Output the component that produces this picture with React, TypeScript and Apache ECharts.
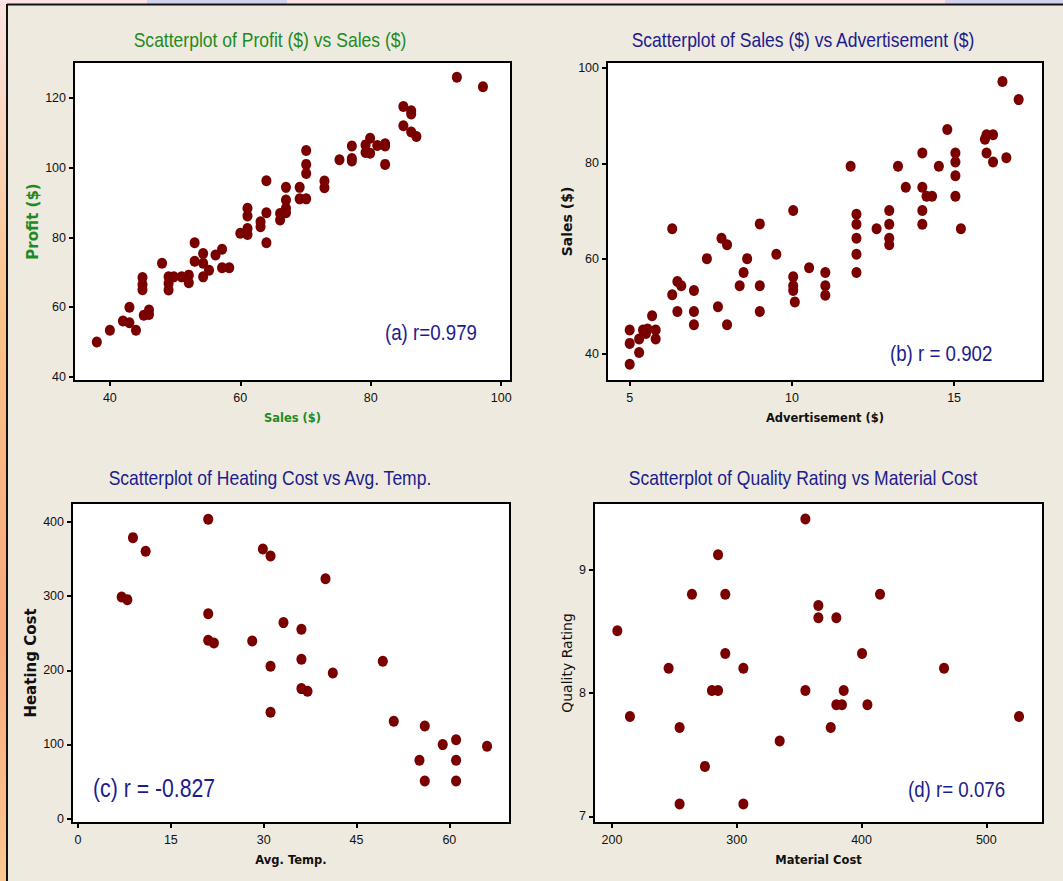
import React, { useEffect, useRef } from "react";
import * as echarts from "echarts";

// Panel (a): Profit vs Sales
const salesA = [38,40,42,43,43,44,45,45,45,45.2,46,46,48,49,49,49,49.8,51,52.1,52.1,53,53,54.3,54.3,54.3,55.2,56.2,57.2,57.2,58.3,60,61.1,61.1,61.1,61.1,63.1,63.1,64,64,64,66.1,66.1,67,67,67,67,69.1,69.1,70.1,70.1,70.1,70.1,72.9,72.9,75.2,77.1,77.1,77.1,79.2,79.2,79.9,79.9,81,82.2,82.2,82.2,85,85,86.2,86.2,86.2,87,93.2,97.2];
const profitA = [50,53.4,56,60,55.5,53.4,68.5,66.5,65,57.7,59.2,57.9,72.6,68.7,66.8,64.9,68.7,68.7,69.2,67,78.5,73.2,75.4,72.6,68.7,70.6,75,76.6,71.3,71.3,81.2,88.4,86.2,82.6,80.9,84.5,83.1,96.3,87.1,78.5,86.9,85,94.4,90.8,88.4,87.1,94.4,91.1,105,101,98.4,91.1,96.2,94.3,102.3,106.3,102.7,102,106.6,104.4,108.5,104.2,106.4,106.9,106.3,101,117.6,112.1,116.4,115.5,110.3,109,126,123.3];

// Panel (b): Sales vs Advertisement
const advB = [5,5,5,5.29,5.29,5.41,5.5,5.55,5.69,5.8,5.8,6.31,6.31,6.47,6.59,6.47,6.98,6.98,6.98,7.38,7.72,7.83,8,8,8.39,8.51,8.62,9.01,9.01,9.01,9.52,10.04,10.04,10.04,10.04,10.09,10.53,11.03,11.03,11.03,11.81,11.99,11.99,11.99,11.99,11.99,12.61,13,13,13,13,13.27,13.51,14.02,14.02,14.02,14.02,14.15,14.32,14.53,14.79,15.04,15.04,15.04,15.04,15.21,15.95,16,16,16.2,16.2,16.49,16.61,16.99];
const salesB = [45,42.2,37.8,40.3,43.1,45,44.3,45.2,48,45,43.1,52.4,66.3,55.2,54.3,48.9,53.3,48.9,46.1,60,49.9,64.3,62.9,46.1,54.3,57.1,60,67.3,54.3,48.9,60.9,70.1,56.2,54.3,53.3,50.9,58.1,57.1,54.3,52.3,79.4,69.3,67.2,64.3,60.9,57.1,66.3,70.1,67.2,64.3,62.9,79.4,75,82.2,75,70.1,67.2,73.1,73.1,79.4,87.1,82.2,80.3,77.4,73.1,66.3,85.1,86,82.2,86,80.3,97.2,81.2,93.4];

// Panel (c): Heating Cost vs Avg. Temp.
const tempC = [7.05,7.97,8.88,10.93,21.04,21.04,21.04,21.96,28.15,29.87,31.11,31.11,31.11,33.2,36.1,36.1,36.1,37.08,39.99,41.17,49.25,51.02,55.17,56.03,56.03,58.93,61.09,61.09,61.09,66.09];
const costC = [298.9,295.3,378.9,360.4,403.6,276.4,240.4,236.9,239.6,363.6,354.2,205.4,143.4,264.3,255.3,214.8,175.3,171.7,323.6,196.4,212.1,131.2,78.7,124.9,50.8,99.8,106.5,78.7,50.8,97.5];

// Panel (d): Quality Rating vs Material Cost
const matD = [204.3,214.4,245.4,254.2,254.2,264.1,274.5,280.1,285,285,290.8,290.8,305.3,305.3,334.4,355,355,365.4,365.4,375.3,379.8,379.8,384.3,385.7,400.4,404.7,414.8,466.1,526.2];
const qualD = [8.505,7.81,8.2,7.72,7.1,8.8,7.405,8.02,8.02,9.12,8.8,8.32,8.2,7.1,7.61,9.41,8.02,8.71,8.61,7.72,8.61,7.905,7.905,8.02,8.32,7.905,8.8,8.2,7.81];

const ticksA_x = [40, 60, 80, 100];
const ticksA_y = [40, 60, 80, 100, 120];
const ticksB_x = [5, 10, 15];
const ticksB_y = [40, 60, 80, 100];
const ticksC_x = [0, 15, 30, 45, 60];
const ticksC_y = [0, 100, 200, 300, 400];
const ticksD_x = [200, 300, 400, 500];
const ticksD_y = [7, 8, 9];

const titles = [
  "Scatterplot of Profit ($) vs Sales ($)",
  "Scatterplot of Sales ($) vs Advertisement ($)",
  "Scatterplot of Heating Cost vs Avg. Temp.",
  "Scatterplot of Quality Rating vs Material Cost",
];
const notes = ["(a) r=0.979", "(b) r = 0.902", "(c) r = -0.827", "(d) r= 0.076"];

const FONT_L = "'Liberation Sans', Arial, sans-serif";
const FONT_B = "'DejaVu Sans', Verdana, sans-serif";
const GREEN = "#1f8a1f";
const NAVY = "#1c1c8c";
const DOT = "#7a0000";
const CREAM = "#eeeae0";

function zip(a: number[], b: number[]) {
  return a.map((v, i) => [v, b[i]]);
}

function axis(
  dim: "x" | "y",
  gridIndex: number,
  min: number,
  max: number,
  ticks: number[],
  name: string,
  nameGap: number,
  nameColor: string,
  bold: boolean,
  nameSize: number
) {
  return {
    type: "value",
    gridIndex,
    min,
    max,
    name,
    nameLocation: "middle",
    nameGap,
    nameTextStyle: {
      color: nameColor,
      fontFamily: FONT_B,
      fontWeight: bold ? "bold" : "normal",
      fontSize: nameSize,
    },
    axisLine: { show: true, onZero: false, lineStyle: { color: "#000", width: 2 } },
    axisTick: {
      show: true,
      inside: false,
      length: 5,
      lineStyle: { color: "#000", width: 2 },
      customValues: ticks,
    },
    axisLabel: {
      customValues: ticks,
      color: "#111",
      fontSize: 12.5,
      fontFamily: FONT_L,
      margin: dim === "x" ? 10 : 8,
      showMinLabel: true,
      showMaxLabel: true,
    },
    splitLine: { show: false },
  };
}

export default function App() {
  const ref = useRef<HTMLDivElement>(null);
  useEffect(() => {
    if (!ref.current) return;
    const chart = echarts.init(ref.current, undefined, { renderer: "svg" });
    const gridBase = {
      show: true,
      backgroundColor: "#ffffff",
      borderColor: "#000",
      borderWidth: 2,
    };
    const titleCenters = [
      [270, 39],
      [803, 39],
      [270, 477],
      [803, 477],
    ];
    const noteStyle = [
      { x: 385, y: 332, size: 22 },
      { x: 890, y: 353, size: 22 },
      { x: 93, y: 788, size: 25 },
      { x: 908, y: 789, size: 22 },
    ];
    const option: any = {
      animation: false,
      backgroundColor: CREAM,
      grid: [
        { ...gridBase, left: 74, top: 62, width: 437, height: 319 },
        { ...gridBase, left: 607, top: 62, width: 436, height: 319 },
        { ...gridBase, left: 72, top: 503, width: 438, height: 320 },
        { ...gridBase, left: 594, top: 503, width: 449, height: 320 },
      ],
      xAxis: [
        axis("x", 0, 34.5, 101.5, ticksA_x, "Sales ($)", 31, GREEN, true, 11.5),
        axis("x", 1, 4.3, 17.74, ticksB_x, "Advertisement ($)", 31, "#111", true, 11.5),
        axis("x", 2, -0.97, 69.8, ticksC_x, "Avg. Temp.", 31, "#111", true, 11.5),
        axis("x", 3, 185.6, 545.4, ticksD_x, "Material Cost", 31, "#111", true, 11.5),
      ],
      yAxis: [
        axis("y", 0, 38.8, 130.4, ticksA_y, "Profit ($)", 34, GREEN, true, 15),
        axis("y", 1, 34.3, 101.3, ticksB_y, "Sales ($)", 33, "#111", true, 14),
        axis("y", 2, -5.9, 425.6, ticksC_y, "Heating Cost", 34, "#111", true, 15),
        axis("y", 3, 6.946, 9.54, ticksD_y, "Quality Rating", 20, "#111", false, 14),
      ],
      series: [
        [salesA, profitA],
        [advB, salesB],
        [tempC, costC],
        [matD, qualD],
      ].map(([xs, ys], i) => ({
        type: "scatter",
        xAxisIndex: i,
        yAxisIndex: i,
        data: zip(xs, ys),
        symbol: "circle",
        symbolSize: [10, 11],
        itemStyle: { color: DOT, opacity: 1 },
        z: 5,
      })),
      graphic: [
        // top strip
        { type: "rect", z: 1, shape: { x: 0, y: 0, width: 1063, height: 5 }, style: { fill: "#fce4e6" } },
        { type: "rect", z: 1, shape: { x: 147, y: 0, width: 140, height: 4 }, style: { fill: "#d2d2ee" } },
        { type: "rect", z: 1, shape: { x: 945, y: 0, width: 118, height: 4 }, style: { fill: "#d2d2ee" } },
        // left strip
        {
          type: "rect",
          z: 1,
          shape: { x: 0, y: 0, width: 7, height: 881 },
          style: {
            fill: new echarts.graphic.LinearGradient(0, 0, 0, 1, [
              { offset: 0, color: "#fde3e3" },
              { offset: 0.35, color: "#fac48a" },
              { offset: 0.72, color: "#f8a87a" },
              { offset: 1, color: "#fbc892" },
            ]),
          },
        },
        // frame lines
        { type: "line", z: 2, shape: { x1: 7, y1: 4, x2: 7, y2: 881 }, style: { stroke: "#111", lineWidth: 2 } },
        { type: "line", z: 2, shape: { x1: 7, y1: 4.5, x2: 1063, y2: 4.5 }, style: { stroke: "#111", lineWidth: 2 } },
        ...titles.map((t, i) => ({
          type: "text",
          z: 10,
          x: titleCenters[i][0],
          y: titleCenters[i][1],
          scaleX: 0.835,
          style: {
            text: t,
            fill: i === 0 ? GREEN : NAVY,
            font: `21px ${FONT_L}`,
            textAlign: "center",
            textVerticalAlign: "middle",
          },
        })),
        ...notes.map((t, i) => ({
          type: "text",
          z: 100,
          x: noteStyle[i].x,
          y: noteStyle[i].y,
          scaleX: 0.85,
          style: {
            text: t,
            fill: NAVY,
            font: `${noteStyle[i].size}px ${FONT_L}`,
            textAlign: "left",
            textVerticalAlign: "middle",
          },
        })),
      ],
    };
    chart.setOption(option);
    return () => chart.dispose();
  }, []);
  return (
    <div
      ref={ref}
      style={{ position: "absolute", left: 0, top: 0, width: 1063, height: 881 }}
    />
  );
}
